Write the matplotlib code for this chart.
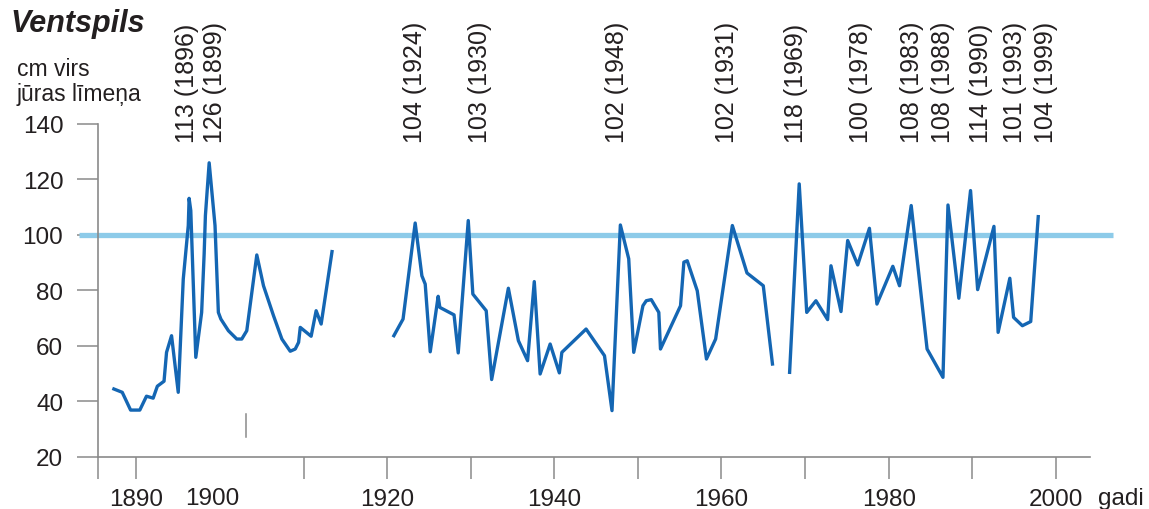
import numpy as np
import matplotlib.pyplot as plt

# yearly maximum sea level, Ventspils (cm above sea level); NaN = gap in record
years = [1887.3, 1888.3, 1889.3, 1890.4, 1891.2, 1892.0, 1892.5, 1893.3, 1893.6, 1894.2,
         1895.0, 1895.6, 1896.2, 1896.3, 1896.5, 1897.1, 1897.8, 1898.1, 1898.25, 1898.7,
         1899.4, 1899.8, 1900.1, 1901.0, 1902.0, 1902.6, 1903.2, 1904.4, 1905.2, 1906.4,
         1907.4, 1908.4, 1909.0, 1909.4, 1909.6, 1910.9, 1911.5, 1912.1, 1913.4,
         1917.0,
         1920.8, 1921.9, 1923.35, 1924.15, 1924.55, 1925.15, 1926.1, 1926.3, 1928.0, 1928.5,
         1929.7, 1930.25, 1931.85, 1932.5, 1934.5, 1935.7, 1936.8, 1937.6, 1938.3, 1939.5,
         1940.6, 1940.9, 1943.8, 1946.0, 1946.9, 1947.9, 1948.9, 1949.5, 1950.6, 1951.0,
         1951.6, 1952.5, 1952.7, 1955.1, 1955.5, 1955.9, 1957.1, 1958.2, 1959.3, 1961.3,
         1963.05, 1965.0, 1966.1,
         1967.2,
         1968.15, 1969.3, 1970.2, 1971.3, 1972.7, 1973.1, 1974.3, 1975.1, 1976.3, 1977.7,
         1978.6, 1980.5, 1981.3, 1982.7, 1984.6, 1986.5, 1987.1, 1988.4, 1989.8, 1990.65,
         1992.6, 1993.1, 1994.5, 1994.95, 1996.0, 1997.0, 1997.9]
levels = [44.5, 43.3, 36.9, 36.9, 41.9, 41.2, 45.5, 47.3, 57.7, 63.7,
          43.3, 84.1, 103.4, 113.2, 108.8, 55.9, 72.1, 93.2, 107.0, 126.0,
          103.4, 72.1, 69.7, 65.5, 62.5, 62.5, 65.5, 92.8, 81.7, 70.9,
          62.5, 58.1, 58.9, 61.3, 66.7, 63.5, 72.7, 67.9, 94.0,
          np.nan,
          63.7, 69.7, 104.3, 85.3, 82.3, 57.9, 77.9, 73.9, 71.2, 57.5,
          105.2, 78.7, 72.7, 47.9, 80.8, 61.9, 54.7, 83.2, 49.9, 60.7,
          50.3, 57.7, 66.1, 56.5, 36.7, 103.6, 91.4, 57.7, 74.5, 76.3,
          76.7, 72.1, 58.9, 74.5, 90.2, 90.7, 79.9, 55.3, 62.5, 103.4,
          86.3, 81.7, 53.5,
          np.nan,
          50.5, 118.4, 72.1, 76.3, 69.5, 88.9, 72.4, 98.0, 89.2, 102.4,
          75.1, 88.7, 81.7, 110.6, 58.9, 48.7, 110.8, 77.2, 116.0, 80.3,
          103.1, 64.9, 84.4, 70.3, 67.3, 68.8, 106.6]

# labels of the extreme events (text as printed) and their x positions
peak_labels = ['113 (1896)', '126 (1899)', '104 (1924)', '103 (1930)', '102 (1948)',
               '102 (1931)', '118 (1969)', '100 (1978)', '108 (1983)', '108 (1988)',
               '114 (1990)', '101 (1993)', '104 (1999)']
peak_x = [1896.1, 1899.4, 1923.35, 1931.1, 1947.5, 1960.7, 1968.9, 1976.7,
          1982.8, 1986.5, 1991.1, 1995.1, 1998.8]

yticks = [20, 40, 60, 80, 100, 120, 140]
threshold = 100

plt.rcParams['font.family'] = ['Liberation Sans', 'DejaVu Sans']
text_col = '#231f20'
axis_col = '#8a8a8a'

fig = plt.figure(figsize=(11.49, 5.10), dpi=100)
ax = fig.add_axes([0.0853, 0.102, 0.8634, 0.653])
ax.set_xlim(1885.4, 2004.1)
ax.set_ylim(20, 140)

# threshold line (extends a bit past the axes)
ax.plot([1883.1, 2006.9], [threshold, threshold], color='#8dcbe9', lw=3.8,
        solid_capstyle='butt', clip_on=False, zorder=2)
ax.plot(years, levels, color='#1466b3', lw=2.4, zorder=3)

# stray short mark below the curve
ax.plot([1903.1, 1903.1], [27.2, 35.5], color=axis_col, lw=1.1)

for s in ['top', 'right']:
    ax.spines[s].set_visible(False)
for s in ['left', 'bottom']:
    ax.spines[s].set_color(axis_col)
    ax.spines[s].set_linewidth(1.2)

ax.set_yticks(yticks)
ax.set_yticklabels([str(v) for v in yticks])
ax.tick_params(axis='y', direction='out', length=15, width=1.1, color=axis_col,
               pad=10, labelsize=17.5, labelcolor=text_col)

xt = [1885.4, 1890, 1910, 1920, 1930, 1940, 1950, 1960, 1970, 1980, 1990, 2000]
xl = ['', '1890', '', '1920', '', '1940', '', '1960', '', '1980', '', '2000']
ax.set_xticks(xt)
ax.set_xticklabels(xl)
ax.tick_params(axis='x', direction='out', length=16, width=1.1, color=axis_col,
               pad=6, labelsize=17.5, labelcolor=text_col)
ax.text(1899.1, -0.091, '1900', transform=ax.get_xaxis_transform(), ha='center',
        va='top', fontsize=17.5, color=text_col)
ax.text(2005.0, -0.091, 'gadi', transform=ax.get_xaxis_transform(), ha='left',
        va='top', fontsize=17.5, color=text_col, clip_on=False)

for lab, x in zip(peak_labels, peak_x):
    ax.text(x, 133.5, lab, rotation=90, ha='center', va='bottom', fontsize=18,
            color=text_col, clip_on=False)

fig.text(10 / 1149, 1 - 24 / 510, 'Ventspils', fontsize=22, fontweight='bold',
         fontstyle='italic', color=text_col, ha='left', va='center')
fig.text(17 / 1149, 1 - 82 / 510, 'cm virs\njūras līmeņa', fontsize=16.5,
         color=text_col, ha='left', va='center', linespacing=1.1)

fig.savefig('out.png', dpi=100)
